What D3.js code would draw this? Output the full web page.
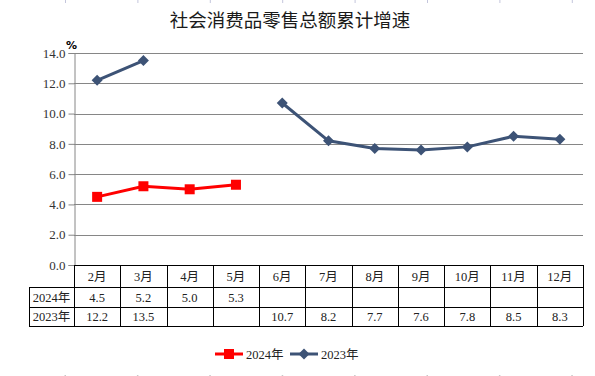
<!DOCTYPE html>
<html lang="zh">
<head>
  <meta charset="UTF-8" />
  <title>社会消费品零售总额累计增速</title>
  <script src="https://cdn.jsdelivr.net/npm/d3@7"></script>
  <style>
    html, body { margin: 0; padding: 0; background: #fff; overflow: hidden; }
    svg { display: block; }
  </style>
</head>
<body>
  <script>
    // Data
    const months = ["2月", "3月", "4月", "5月", "6月", "7月", "8月", "9月", "10月", "11月", "12月"];
    const values2024 = [4.5, 5.2, 5.0, 5.3, null, null, null, null, null, null, null];
    const values2023 = [12.2, 13.5, null, null, 10.7, 8.2, 7.7, 7.6, 7.8, 8.5, 8.3];
    const yTicks = [0, 2, 4, 6, 8, 10, 12, 14];
    const seriesNames = ["2024年", "2023年"];

    const width = 595, height = 376;
    const plot = { left: 74, right: 583, top: 53, bottom: 265 };
    const red = "#ff0000", blue = "#3d5376";
    const serif = "'Liberation Serif', 'DejaVu Serif', 'Noto Sans CJK SC', serif";
    const cjk = "'Noto Sans CJK SC', sans-serif";

    const svg = d3.select("body").append("svg")
      .attr("width", width)
      .attr("height", height);

    // faint page ruler marks
    const rulerX = d3.range(8).map(i => 65.5 + i * 72.4);
    svg.selectAll("line.rtop").data(rulerX).join("line")
      .attr("x1", d => d).attr("x2", d => d)
      .attr("y1", 0).attr("y2", 3)
      .attr("stroke", "#c4c6dc");
    svg.selectAll("rect.rbot").data(rulerX).join("rect")
      .attr("x", d => d - 1).attr("y", 375)
      .attr("width", 1.5).attr("height", 1.5)
      .attr("fill", "#c8c8c8");

    const x = d3.scaleBand().domain(months).range([plot.left, plot.right]);
    const y = d3.scaleLinear().domain([0, 14]).range([plot.bottom, plot.top]);

    // title
    svg.append("text")
      .attr("x", 290).attr("y", 27)
      .attr("text-anchor", "middle")
      .attr("font-family", cjk)
      .attr("font-size", 18.5)
      .attr("fill", "#1a1a1a")
      .text("社会消费品零售总额累计增速");

    svg.append("text")
      .attr("x", 66).attr("y", 49)
      .attr("font-family", "'DejaVu Sans', sans-serif")
      .attr("font-weight", "bold")
      .attr("font-size", 11)
      .text("%");

    // gridlines
    svg.append("g").selectAll("line").data(yTicks.filter(d => d > 0)).join("line")
      .attr("x1", plot.left).attr("x2", plot.right)
      .attr("y1", d => Math.round(y(d)) + 0.5).attr("y2", d => Math.round(y(d)) + 0.5)
      .attr("stroke", "#868686");

    // y axis
    const yAxis = svg.append("g")
      .attr("transform", `translate(${plot.left + 0.5},0)`)
      .call(d3.axisLeft(y).tickValues(yTicks).tickFormat(d3.format(".1f")).tickSize(6).tickPadding(3));
    yAxis.select(".domain").attr("stroke", "#868686");
    yAxis.selectAll(".tick line").attr("stroke", "#868686");
    yAxis.selectAll(".tick text")
      .attr("font-family", serif)
      .attr("font-size", 13)
      .attr("fill", "#333");

    // data table
    const rowTop = [265, 287, 307];
    const rowBot = [287, 307, 326];
    const labelLeft = 29;
    const tbl = svg.append("g")
      .attr("stroke", "#000").attr("stroke-width", 1)
      .attr("shape-rendering", "crispEdges");
    // horizontal lines
    tbl.append("line").attr("x1", plot.left).attr("x2", plot.right).attr("y1", rowTop[0] + 0.5).attr("y2", rowTop[0] + 0.5);
    [rowTop[1], rowTop[2], rowBot[2]].forEach(v => {
      tbl.append("line").attr("x1", labelLeft).attr("x2", plot.right).attr("y1", v + 0.5).attr("y2", v + 0.5);
    });
    // vertical lines
    tbl.append("line").attr("x1", labelLeft + 0.5).attr("x2", labelLeft + 0.5).attr("y1", rowTop[1]).attr("y2", rowBot[2]);
    months.concat([null]).forEach((m, i) => {
      const xv = Math.round(plot.left + i * x.bandwidth()) + 0.5;
      tbl.append("line").attr("x1", xv).attr("x2", xv).attr("y1", rowTop[0]).attr("y2", rowBot[2]);
    });

    const cellText = svg.append("g")
      .attr("font-family", serif)
      .attr("font-size", 12.5)
      .attr("fill", "#222")
      .attr("text-anchor", "middle");
    cellText.selectAll("text.m").data(months).join("text")
      .attr("x", d => x(d) + x.bandwidth() / 2)
      .attr("y", 281)
      .text(d => d);
    [values2024, values2023].forEach((vals, r) => {
      cellText.append("text")
        .attr("x", (labelLeft + plot.left) / 2)
        .attr("y", rowBot[r + 1] - 5)
        .text(seriesNames[r]);
      cellText.selectAll(null).data(months).join("text")
        .filter((d, i) => vals[i] != null)
        .attr("x", d => x(d) + x.bandwidth() / 2)
        .attr("y", rowBot[r + 1] - 5)
        .text(d => vals[months.indexOf(d)].toFixed(1));
    });

    // series
    const line = d3.line()
      .defined(d => d.v != null)
      .x(d => x(d.m) + x.bandwidth() / 2)
      .y(d => y(d.v));
    const pts23 = months.map((m, i) => ({ m, v: values2023[i] }));
    const pts24 = months.map((m, i) => ({ m, v: values2024[i] }));

    svg.append("path").datum(pts23)
      .attr("d", line)
      .attr("fill", "none").attr("stroke", blue).attr("stroke-width", 3);
    svg.append("g").selectAll("path").data(pts23.filter(d => d.v != null)).join("path")
      .attr("transform", d => `translate(${x(d.m) + x.bandwidth() / 2},${y(d.v)})`)
      .attr("d", "M0,-5.5L5.5,0L0,5.5L-5.5,0Z")
      .attr("fill", blue);

    svg.append("path").datum(pts24)
      .attr("d", line)
      .attr("fill", "none").attr("stroke", red).attr("stroke-width", 3);
    svg.append("g").selectAll("rect").data(pts24.filter(d => d.v != null)).join("rect")
      .attr("x", d => x(d.m) + x.bandwidth() / 2 - 5)
      .attr("y", d => y(d.v) - 5)
      .attr("width", 10).attr("height", 10)
      .attr("fill", red);

    // legend
    const legend = svg.append("g").attr("transform", "translate(0,354)");
    legend.append("line").attr("x1", 215).attr("x2", 243).attr("stroke", red).attr("stroke-width", 3);
    legend.append("rect").attr("x", 224).attr("y", -5).attr("width", 10).attr("height", 10).attr("fill", red);
    legend.append("text").attr("x", 246).attr("y", 5)
      .attr("font-family", serif).attr("font-size", 12.5).attr("fill", "#222").text(seriesNames[0]);
    legend.append("line").attr("x1", 290).attr("x2", 318).attr("stroke", blue).attr("stroke-width", 3);
    legend.append("path").attr("transform", "translate(304,0)")
      .attr("d", "M0,-5.5L5.5,0L0,5.5L-5.5,0Z").attr("fill", blue);
    legend.append("text").attr("x", 321).attr("y", 5)
      .attr("font-family", serif).attr("font-size", 12.5).attr("fill", "#222").text(seriesNames[1]);
  </script>
</body>
</html>
